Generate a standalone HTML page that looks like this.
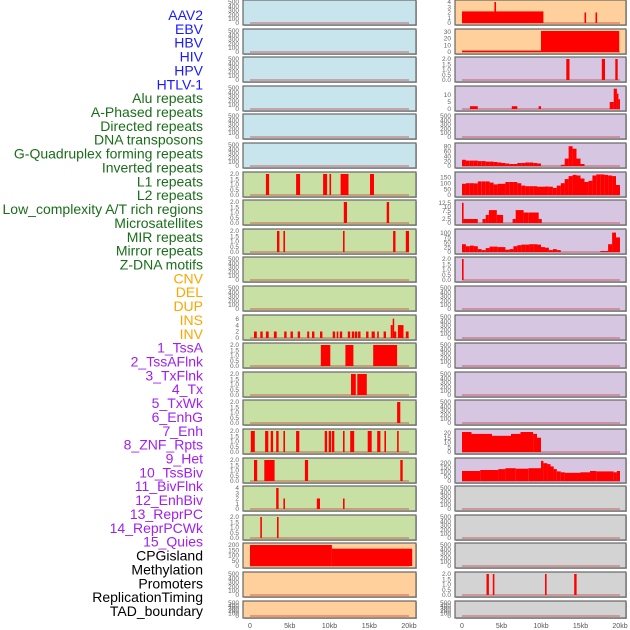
<!DOCTYPE html>
<html><head><meta charset="utf-8">
<style>
html,body{margin:0;padding:0;background:#fff;}
svg{display:block;font-family:"Liberation Sans",sans-serif;}
</style></head>
<body>
<svg id="chart" width="630" height="630" viewBox="0 0 630 630" xmlns="http://www.w3.org/2000/svg"></svg>
<script>
const labels = ["AAV2","EBV","HBV","HIV","HPV","HTLV-1","Alu repeats","A-Phased repeats","Directed repeats","DNA transposons","G-Quadruplex forming repeats","Inverted repeats","L1 repeats","L2 repeats","Low_complexity A/T rich regions","Microsatellites","MIR repeats","Mirror repeats","Z-DNA motifs","CNV","DEL","DUP","INS","INV","1_TssA","2_TssAFlnk","3_TxFlnk","4_Tx","5_TxWk","6_EnhG","7_Enh","8_ZNF_Rpts","9_Het","10_TssBiv","11_BivFlnk","12_EnhBiv","13_ReprPC","14_ReprPCWk","15_Quies","CPGisland","Methylation","Promoters","ReplicationTiming","TAD_boundary"];
const labelGroups = [6,13,5,15,5];
const groupColors = ["#1a1aff","#1a6e1a","#ffa500","#a020f0","#000000"];
const xTicks = [0,5,10,15,20];
const xTickLabels = ["0","5kb","10kb","15kb","20kb"];

const BLUE="#c8e4ec", GREEN="#c8e0a4", ORANGE="#ffd09c", PURPLE="#d6c6e2", GREY="#d3d3d3";
const T500=[0,100,200,300,400,500], T2=[0,0.5,1,1.5,2];
const leftBg = [BLUE,BLUE,BLUE,BLUE,BLUE,BLUE,GREEN,GREEN,GREEN,GREEN,GREEN,GREEN,GREEN,GREEN,GREEN,GREEN,GREEN,GREEN,GREEN,ORANGE,ORANGE,ORANGE];
const leftMax = [500,500,500,500,500,500,2,2,2,500,500,6.5,2,2,2,2,2,4,2,200,500,500];
const leftTicks = [T500,T500,T500,T500,T500,T500,T2,T2,T2,T500,T500,[0,2,4,6],T2,T2,T2,T2,T2,[0,1,2,3,4],T2,[0,50,100,150,200],T500,T500];
const leftSegs = [[],[],[],[],[],[],
 [[2.0,2.4,2],[5.8,6.3,2],[9.2,9.7,2],[10.0,10.2,2],[11.4,12.4,2],[15.1,15.6,2]],
 [[11.8,12.2,2],[17.2,17.5,2]],
 [[3.4,3.7,2],[4.2,4.4,2],[11.7,11.9,2],[18.0,18.3,2],[19.6,20.0,2]],
 [],[],
 [[0.5,0.85,2],[1.3,1.6,2],[2.0,2.35,2],[3.0,3.35,2],[4.3,4.6,2],[5.1,5.4,2],[6.0,6.3,2],[7.2,7.45,2],[7.8,8.1,2],[8.8,9.1,2],[10.4,10.7,2],[10.9,11.1,2],[11.3,11.6,2],[12.3,12.6,2],[12.8,13.1,2],[13.2,13.5,2],[13.6,13.9,2],[14.6,14.9,2],[15.3,15.7,2],[16.0,16.2,2],[16.8,17.1,2],[17.7,17.95,4],[17.95,18.1,6],[18.1,18.4,2],[18.6,19.3,4],[19.6,19.95,2]],
 [[8.9,10.1,2],[12.0,13.0,2],[15.5,18.5,2]],
 [[12.7,13.3,2],[13.5,14.7,2]],
 [[18.5,18.9,2]],
 [[0.1,0.6,2],[1.9,2.3,2],[2.6,2.9,2],[3.3,3.6,2],[4.2,4.4,2],[5.8,6.2,2],[9.4,9.7,2],[9.9,10.2,2],[10.3,10.6,2],[11.7,11.9,2],[12.6,13.1,2],[14.8,15.3,2],[16.0,16.4,2],[16.9,17.1,2],[18.5,18.7,2]],
 [[0.5,0.9,2],[1.8,3.1,2],[6.9,7.3,2],[18.9,19.2,2]],
 [[3.3,3.6,4],[4.2,4.4,2],[8.4,8.8,2],[11.7,11.9,2]],
 [[1.3,1.5,2],[3.4,3.6,2]],
 [[0,10.3,200],[10.3,20.4,165]],
 [],[]];

const rightBg = [ORANGE,ORANGE,PURPLE,PURPLE,PURPLE,PURPLE,PURPLE,PURPLE,PURPLE,PURPLE,PURPLE,PURPLE,PURPLE,PURPLE,PURPLE,PURPLE,PURPLE,GREY,GREY,GREY,GREY,GREY];
const rightMax = [4,31,2,15,500,85,178,13,108,2,500,500,500,500,500,22,230,500,500,500,2,500];
const rightTicks = [[0,1,2,3,4],[0,10,20,30],T2,[0,5,10],T500,[0,20,40,60,80],[0,50,100,150],[0,2.5,5,7.5,10,12.5],[0,25,50,75,100],T2,T500,T500,T500,T500,T500,[0,5,10,15,20],[0,50,100,150,200],T500,T500,T500,T2,T500];
const binsRow5 = [25,22,22,22,20,20,18,18,16,14,12,10,8,8,12,12,14,14,12,10,0,0,0,0,0,5,30,80,70,30,8,0,0,0,0,0,0,0,0,0];
const binsRow6 = [95,100,100,98,115,115,115,105,90,95,95,110,110,110,100,80,75,75,75,70,70,72,70,60,80,100,135,160,170,165,140,110,120,165,175,175,170,165,160,85];
const binsRow8 = [40,30,33,30,15,10,20,28,28,25,25,12,15,30,35,38,38,40,40,38,25,22,10,15,10,0,0,0,0,0,0,0,0,0,0,5,5,40,100,75];
function bins(arr){return arr.map((v,i)=>[i*0.5,i*0.5+0.5,v]);}
const rightSegs = [
 [[0,10.3,2.2],[4.1,4.3,4],[15.5,15.7,2],[16.9,17.1,2]],
 [[0,10,2],[10,19.9,31]],
 [[13.2,13.6,2],[17.7,18.1,2],[19.4,19.7,2]],
 [[1.0,2.0,2],[6.3,7.0,2],[9.7,10.0,2],[18.7,19.2,5],[19.2,19.6,14.5],[19.6,19.8,11],[19.8,20,7]],
 [],
 bins(binsRow5),
 bins(binsRow6),
 [[0,0.2,12.5],[0.2,2.0,2.5],[2.6,3.0,2.5],[3.0,3.4,5],[3.4,4.4,8],[4.4,5.2,5],[6.4,6.8,2.5],[6.8,7.8,8],[7.8,8.4,6.5],[8.4,9.7,6.5],[9.7,10.1,2.5]],
 bins(binsRow8),
 [[0,0.2,2]],
 [],[],[],[],[],
 [[0,1.2,21],[1.2,3.8,19],[3.8,6.2,17],[6.2,7.4,19],[7.4,9.0,21],[9.0,9.5,19],[9.5,10,15]],
 [[0,2.3,110],[2.3,4.6,120],[4.6,5.5,130],[5.5,6.8,140],[6.8,8.4,135],[8.4,10,140],[10,10.3,220],[10.3,10.8,195],[10.8,11.2,185],[11.2,11.6,160],[11.6,12,130],[12,12.5,105],[12.5,13,95],[13,15,90],[15,16.2,95],[16.2,17,110],[17,19.2,105],[19.2,19.6,95],[19.6,20,110]],
 [],[],[],
 [[3.1,3.4,2],[3.9,4.1,2],[10.5,10.7,2],[14.2,14.5,2]],
 []];

const svg = document.getElementById('chart');
const NS = "http://www.w3.org/2000/svg";
function mk(tag, attrs, parent){const e=document.createElementNS(NS,tag);for(const k in attrs)e.setAttribute(k,attrs[k]);(parent||svg).appendChild(e);return e;}

let li=0;
labelGroups.forEach((n,gi)=>{for(let j=0;j<n;j++){
  const t=mk('text',{x:203,y:(20+li*13.86).toFixed(1),'text-anchor':'end','font-size':14,fill:groupColors[gi]});
  t.textContent=labels[li];
  
  
  li++;}});

function panel(col, i, bg, ymax, ticks, segs){
  const px = col===0?243:455, pw = col===0?173:171;
  const x0 = col===0?250:462, kbw = col===0?7.95:7.9;
  const top = Math.round(i*28.6), h = i===21?17:25;
  const g = mk('g',{});
  
  
  mk('rect',{x:px+1,y:top+1,width:pw,height:h,fill:'#bbb'},g);
  mk('rect',{x:px,y:top,width:pw,height:h,fill:bg,stroke:'#666','stroke-width':1.2},g);
  const yb = top+h-2, yt = top+2;
  const ys = v => yb - (v/ymax)*(yb-yt);
  const xs = kb => x0 + kb*kbw;
  mk('line',{x1:xs(0),x2:xs(20),y1:yb,y2:yb,stroke:'rgba(190,40,40,0.45)','stroke-width':1.5},g);
  segs.forEach(s=>{
    const r=mk('rect',{x:xs(s[0]).toFixed(1),y:ys(s[2]).toFixed(1),width:Math.max(1.5,xs(s[1])-xs(s[0])).toFixed(1),height:(yb-ys(s[2])).toFixed(1),fill:'#ff0000'},g);
    
    
  });
  ticks.forEach(t=>{
    if(ys(t)<top-2)return;
    const tx=mk('text',{x:px-4,y:(ys(t)+2.2).toFixed(1),'text-anchor':'end','font-size':6.5,fill:'#666'},g);
    tx.textContent=String(t===0.5||t===1.5||t===2.5||t===7.5||t===12.5?t.toFixed(1):(ymax<=2.5?t.toFixed(1):t));
    
    
  });
}
for(let i=0;i<22;i++){
  panel(0,i,leftBg[i],leftMax[i],leftTicks[i],leftSegs[i]);
  panel(1,i,rightBg[i],rightMax[i],rightTicks[i],rightSegs[i]);
}
[[250,7.95],[462,7.9]].forEach(([x0,kbw])=>{
  xTicks.forEach((k,j)=>{
    const t=mk('text',{x:(x0+k*kbw).toFixed(1),y:628,'text-anchor':'middle','font-size':7,fill:'#555'});
    t.textContent=xTickLabels[j];
    
    
  });
});
</script>
</body></html>
